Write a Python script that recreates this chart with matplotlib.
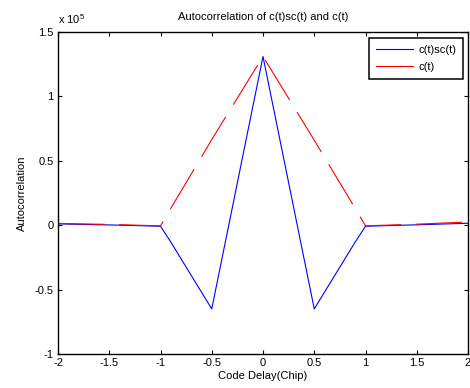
import matplotlib
matplotlib.use("Agg")
import matplotlib.pyplot as plt
from matplotlib.lines import Line2D
from matplotlib.ticker import FuncFormatter

plt.rcParams['font.family'] = ['Liberation Sans', 'DejaVu Sans']
plt.rcParams['mathtext.fontset'] = 'custom'
plt.rcParams['mathtext.rm'] = 'Liberation Sans'
plt.rcParams['lines.scale_dashes'] = False

# Code delay in chips and the two correlation curves (raw values)
delay = [-2.0, -1.5, -1.0, -0.9, -0.5, 0.0, 0.5, 0.9, 1.0, 1.5, 2.0]
corr_boc = [1000, 200, -800, -13000, -65000, 131000, -65000, -13000, -800, 300, 1500]
corr_c = [1400, 600, -500, 13000, 66500, 131000, 66000, 13000, -500, 800, 2500]

scale = 1e5
xticks = [-2, -1.5, -1, -0.5, 0, 0.5, 1, 1.5, 2]
yticks = [-1, -0.5, 0, 0.5, 1, 1.5]

fig = plt.figure(figsize=(4.70, 3.88), dpi=100)
ax = fig.add_axes([58 / 470, 34 / 388, 410 / 470, 322 / 388])

ax.plot(delay, corr_boc, color='#0000ff', lw=0.8)
ax.plot(delay, corr_c, color='#ff0000', lw=0.8, dashes=(33.5, 10.4))

ax.set_xlim(-2, 2)
ax.set_ylim(-1 * scale, 1.5 * scale)
ax.set_xticks(xticks)
ax.set_yticks([v * scale for v in yticks])
ax.xaxis.set_major_formatter(FuncFormatter(lambda v, p: f"{v:g}"))
ax.yaxis.set_major_formatter(FuncFormatter(lambda v, p: f"{v / scale:g}"))
ax.tick_params(direction='in', length=3, width=0.8, labelsize=8,
               top=True, right=True, pad=3)
for s in ax.spines.values():
    s.set_linewidth(1.0)

ax.set_title('Autocorrelation of c(t)sc(t) and c(t)', fontsize=8, pad=9)
ax.set_xlabel('Code Delay(Chip)', fontsize=8, labelpad=2)
ax.set_ylabel('Autocorrelation', fontsize=8, labelpad=6)

fig.text(58 / 470, 1 - 24 / 388, r'x 10$^{\mathregular{5}}$', fontsize=8,
         ha='left', va='baseline')

handles = [Line2D([], [], color='#0000ff', lw=0.8),
           Line2D([], [], color='#ff0000', lw=0.8)]
leg = ax.legend(handles, ['c(t)sc(t)', 'c(t)'], loc='upper right',
                bbox_to_anchor=(463 / 470, 1 - 38 / 388),
                bbox_transform=fig.transFigure, borderaxespad=0,
                fontsize=8, fancybox=False, framealpha=1, edgecolor='black',
                handlelength=3.4, handletextpad=0.45, borderpad=0.6,
                labelspacing=0.65)
leg.get_frame().set_linewidth(1.1)

fig.savefig('out.png', dpi=100)
